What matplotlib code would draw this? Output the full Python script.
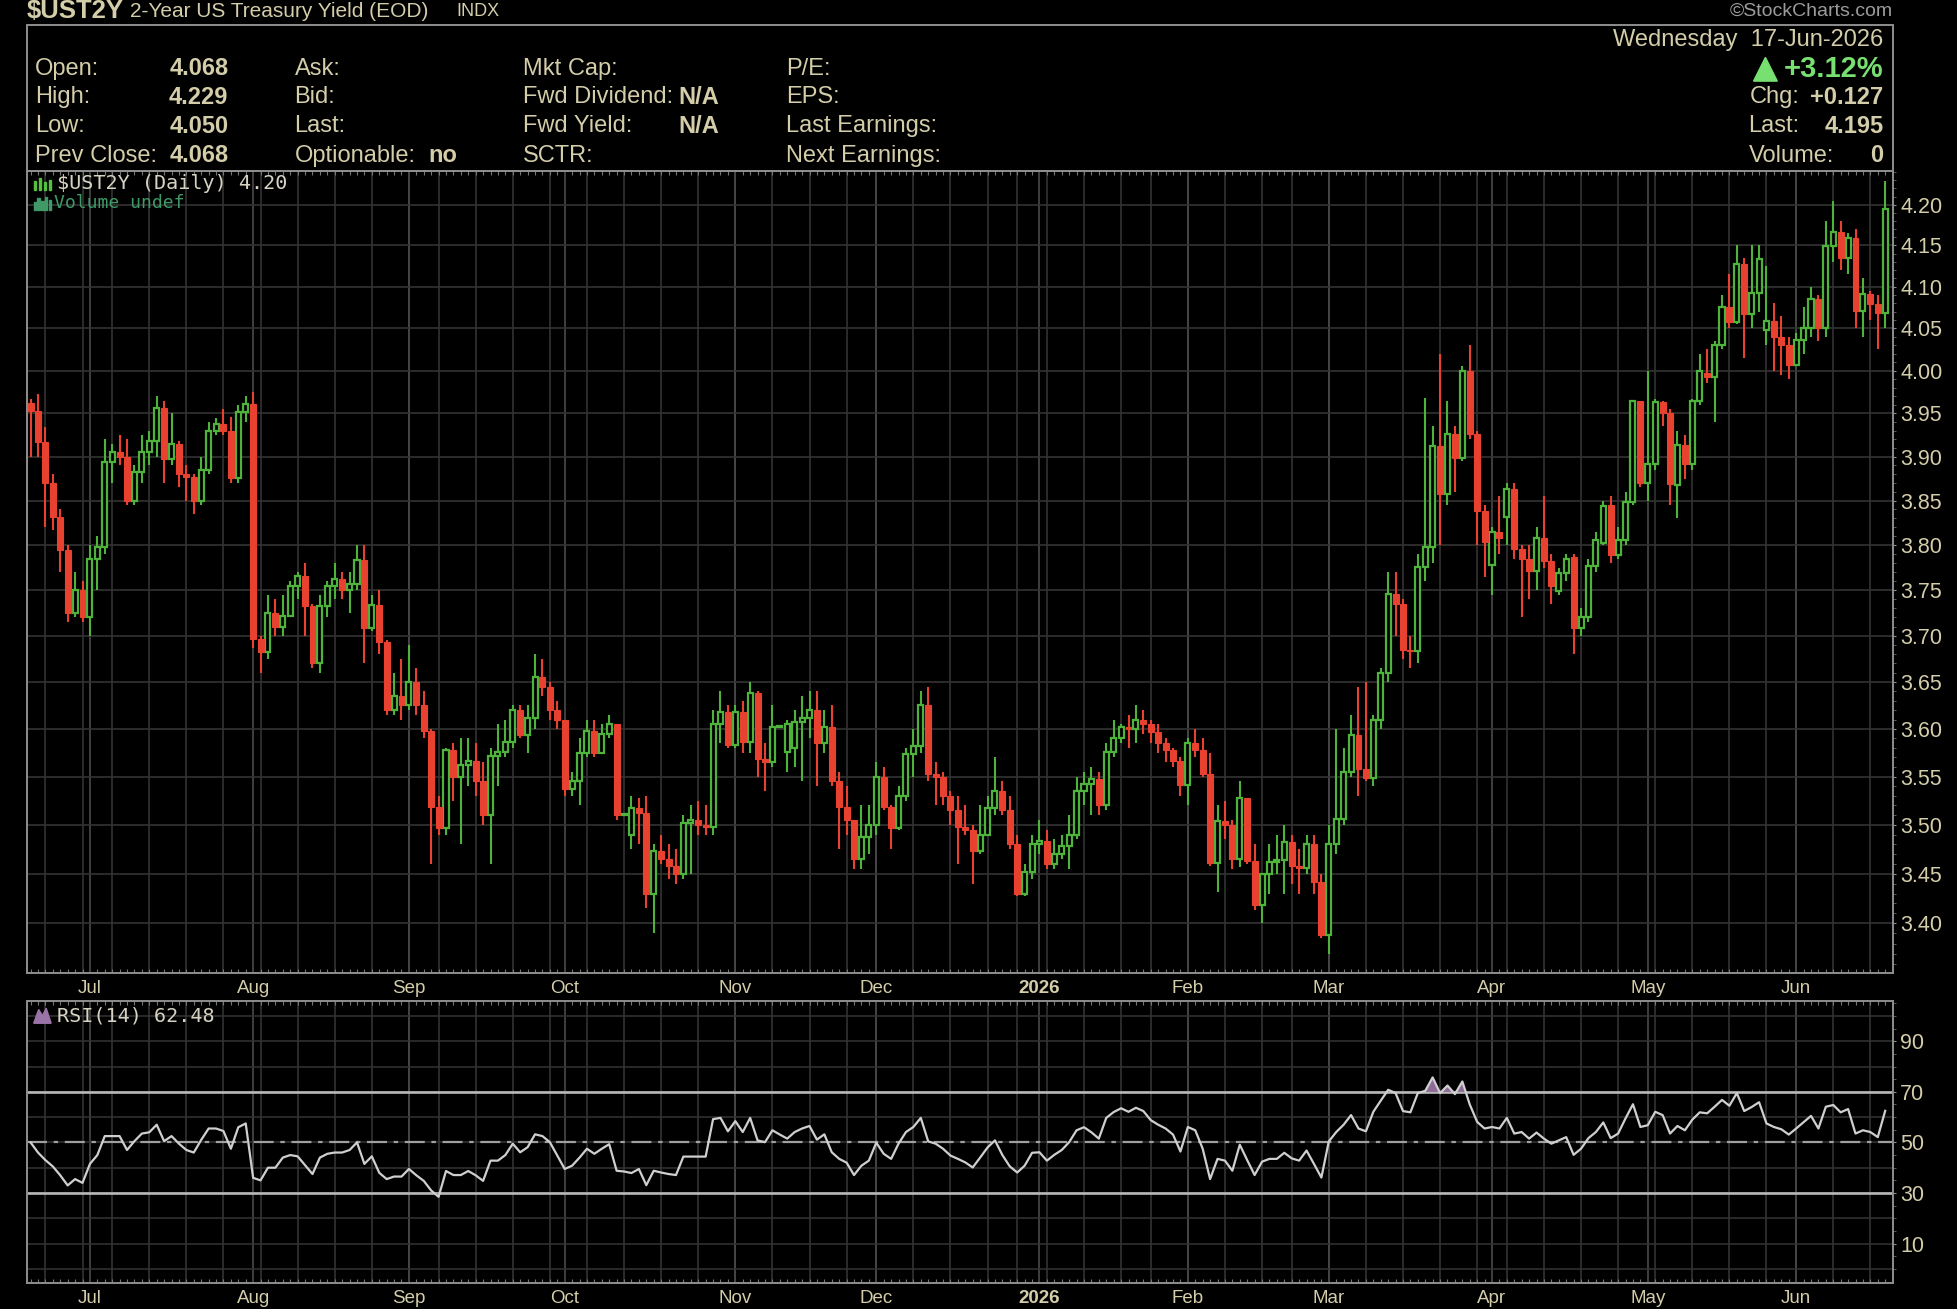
import numpy as np
import pandas as pd
import matplotlib
matplotlib.use("Agg")
import matplotlib.pyplot as plt
from matplotlib import font_manager as fm
from matplotlib.patches import Rectangle, Polygon
from matplotlib.ticker import FixedLocator, FixedFormatter, NullFormatter

# trading calendar, one candle per session
holidays = ["2025-06-19", "2025-07-04", "2025-09-01", "2025-11-27", "2025-12-25",
            "2026-01-01", "2026-01-19", "2026-02-16", "2026-04-03", "2026-05-25"]
dates = pd.bdate_range("2025-06-18", "2026-06-17")
dates = dates[~dates.isin(pd.to_datetime(holidays))]

# daily OHLC of $UST2Y
opens = [
    3.962, 3.953, 3.917, 3.870, 3.832, 3.795, 3.725, 3.750, 3.720, 3.785,
    3.798, 3.894, 3.905, 3.900, 3.850, 3.883, 3.906, 3.918, 3.956, 3.897,
    3.915, 3.880, 3.877, 3.850, 3.885, 3.930, 3.938, 3.930, 3.876, 3.952,
    3.961, 3.697, 3.682, 3.725, 3.710, 3.722, 3.755, 3.766, 3.733, 3.670,
    3.733, 3.755, 3.762, 3.750, 3.757, 3.783, 3.708, 3.734, 3.693, 3.620,
    3.635, 3.625, 3.650, 3.625, 3.598, 3.518, 3.497, 3.578, 3.550, 3.562,
    3.566, 3.545, 3.510, 3.572, 3.576, 3.586, 3.620, 3.594, 3.612, 3.655,
    3.645, 3.620, 3.610, 3.537, 3.545, 3.575, 3.598, 3.575, 3.595, 3.605,
    3.510, 3.490, 3.517, 3.512, 3.430, 3.473, 3.465, 3.458, 3.450, 3.502,
    3.505, 3.500, 3.498, 3.605, 3.618, 3.583, 3.618, 3.586, 3.638, 3.568,
    3.565, 3.602, 3.576, 3.580, 3.607, 3.612, 3.620, 3.585, 3.602, 3.545,
    3.518, 3.505, 3.465, 3.487, 3.500, 3.550, 3.518, 3.497, 3.530, 3.574,
    3.582, 3.625, 3.553, 3.550, 3.530, 3.515, 3.498, 3.495, 3.473, 3.490,
    3.517, 3.535, 3.515, 3.480, 3.430, 3.452, 3.480, 3.483, 3.460, 3.470,
    3.478, 3.490, 3.535, 3.542, 3.547, 3.520, 3.576, 3.590, 3.602, 3.600,
    3.610, 3.605, 3.597, 3.585, 3.578, 3.566, 3.541, 3.585, 3.578, 3.553,
    3.461, 3.504, 3.500, 3.465, 3.528, 3.463, 3.418, 3.450, 3.462, 3.464,
    3.482, 3.458, 3.456, 3.480, 3.442, 3.388, 3.480, 3.506, 3.555, 3.594,
    3.558, 3.549, 3.610, 3.660, 3.746, 3.735, 3.685, 3.683, 3.776, 3.798,
    3.912, 3.857, 3.926, 3.898, 3.999, 3.926, 3.838, 3.778, 3.815, 3.832,
    3.863, 3.796, 3.785, 3.771, 3.808, 3.782, 3.749, 3.769, 3.787, 3.708,
    3.721, 3.777, 3.802, 3.845, 3.789, 3.806, 3.849, 3.965, 3.870, 3.892,
    3.963, 3.950, 3.868, 3.914, 3.892, 3.965, 3.997, 3.992, 4.030, 4.075,
    4.058, 4.127, 4.067, 4.092, 4.048, 4.059, 4.040, 4.030, 4.007, 4.036,
    4.050, 4.085, 4.050, 4.149, 4.166, 4.135, 4.159, 4.071, 4.091, 4.079,
    4.068]
highs = [
    3.967, 3.973, 3.934, 3.880, 3.840, 3.800, 3.770, 3.760, 3.800, 3.810,
    3.920, 3.915, 3.925, 3.920, 3.890, 3.925, 3.930, 3.970, 3.965, 3.950,
    3.918, 3.890, 3.880, 3.900, 3.940, 3.945, 3.955, 3.946, 3.960, 3.970,
    3.975, 3.700, 3.745, 3.740, 3.745, 3.760, 3.770, 3.780, 3.735, 3.745,
    3.760, 3.780, 3.770, 3.770, 3.800, 3.800, 3.745, 3.750, 3.695, 3.660,
    3.675, 3.690, 3.665, 3.640, 3.600, 3.530, 3.580, 3.585, 3.590, 3.590,
    3.585, 3.565, 3.580, 3.605, 3.610, 3.625, 3.625, 3.625, 3.680, 3.675,
    3.650, 3.630, 3.610, 3.555, 3.590, 3.610, 3.610, 3.605, 3.615, 3.605,
    3.510, 3.530, 3.528, 3.530, 3.480, 3.490, 3.480, 3.475, 3.510, 3.520,
    3.525, 3.520, 3.620, 3.640, 3.625, 3.625, 3.630, 3.650, 3.640, 3.585,
    3.625, 3.602, 3.610, 3.620, 3.635, 3.640, 3.640, 3.620, 3.625, 3.555,
    3.540, 3.505, 3.520, 3.520, 3.565, 3.560, 3.520, 3.540, 3.580, 3.600,
    3.640, 3.645, 3.565, 3.555, 3.535, 3.530, 3.520, 3.500, 3.520, 3.530,
    3.570, 3.545, 3.530, 3.490, 3.460, 3.490, 3.505, 3.495, 3.485, 3.490,
    3.510, 3.550, 3.555, 3.560, 3.555, 3.585, 3.610, 3.605, 3.615, 3.625,
    3.620, 3.610, 3.605, 3.590, 3.580, 3.570, 3.590, 3.600, 3.590, 3.575,
    3.520, 3.525, 3.505, 3.545, 3.528, 3.480, 3.450, 3.480, 3.490, 3.500,
    3.490, 3.475, 3.490, 3.490, 3.450, 3.500, 3.600, 3.580, 3.615, 3.645,
    3.650, 3.615, 3.665, 3.770, 3.770, 3.740, 3.700, 3.790, 3.968, 3.935,
    4.020, 3.965, 3.935, 4.005, 4.030, 3.930, 3.845, 3.820, 3.855, 3.870,
    3.870, 3.800, 3.800, 3.820, 3.855, 3.790, 3.775, 3.790, 3.790, 3.730,
    3.785, 3.815, 3.850, 3.855, 3.820, 3.860, 3.965, 3.965, 4.000, 3.967,
    3.965, 3.955, 3.930, 3.925, 3.967, 4.020, 4.025, 4.035, 4.090, 4.115,
    4.150, 4.135, 4.150, 4.150, 4.125, 4.080, 4.065, 4.040, 4.045, 4.075,
    4.100, 4.090, 4.180, 4.205, 4.180, 4.165, 4.170, 4.110, 4.095, 4.090,
    4.229]
lows = [
    3.900, 3.900, 3.820, 3.817, 3.770, 3.715, 3.720, 3.715, 3.700, 3.750,
    3.790, 3.870, 3.890, 3.845, 3.845, 3.870, 3.890, 3.900, 3.870, 3.890,
    3.865, 3.850, 3.835, 3.845, 3.880, 3.925, 3.925, 3.870, 3.870, 3.940,
    3.687, 3.660, 3.675, 3.700, 3.700, 3.720, 3.740, 3.700, 3.665, 3.660,
    3.720, 3.740, 3.740, 3.725, 3.750, 3.670, 3.705, 3.680, 3.615, 3.615,
    3.610, 3.620, 3.615, 3.590, 3.460, 3.490, 3.490, 3.525, 3.480, 3.540,
    3.530, 3.500, 3.460, 3.540, 3.570, 3.580, 3.590, 3.575, 3.600, 3.635,
    3.610, 3.600, 3.530, 3.530, 3.520, 3.570, 3.570, 3.575, 3.590, 3.505,
    3.510, 3.475, 3.480, 3.415, 3.390, 3.460, 3.445, 3.440, 3.445, 3.450,
    3.490, 3.490, 3.490, 3.585, 3.580, 3.580, 3.575, 3.575, 3.550, 3.535,
    3.560, 3.602, 3.555, 3.560, 3.545, 3.590, 3.540, 3.575, 3.540, 3.475,
    3.490, 3.455, 3.455, 3.470, 3.490, 3.515, 3.475, 3.495, 3.525, 3.550,
    3.575, 3.545, 3.520, 3.520, 3.500, 3.460, 3.490, 3.440, 3.470, 3.490,
    3.510, 3.510, 3.475, 3.428, 3.428, 3.445, 3.470, 3.455, 3.455, 3.465,
    3.455, 3.485, 3.520, 3.510, 3.510, 3.515, 3.570, 3.585, 3.580, 3.585,
    3.595, 3.585, 3.575, 3.565, 3.560, 3.530, 3.520, 3.570, 3.550, 3.458,
    3.432, 3.485, 3.455, 3.457, 3.460, 3.413, 3.400, 3.430, 3.450, 3.430,
    3.440, 3.430, 3.450, 3.430, 3.385, 3.370, 3.470, 3.500, 3.550, 3.530,
    3.545, 3.540, 3.600, 3.650, 3.700, 3.675, 3.665, 3.670, 3.760, 3.780,
    3.800, 3.845, 3.860, 3.895, 3.920, 3.800, 3.765, 3.745, 3.790, 3.800,
    3.785, 3.720, 3.740, 3.750, 3.775, 3.735, 3.745, 3.760, 3.680, 3.700,
    3.715, 3.770, 3.800, 3.780, 3.785, 3.800, 3.845, 3.865, 3.850, 3.885,
    3.935, 3.845, 3.830, 3.875, 3.885, 3.960, 3.985, 3.940, 4.025, 4.050,
    4.055, 4.015, 4.050, 4.070, 4.030, 4.000, 3.995, 3.990, 4.005, 4.020,
    4.040, 4.035, 4.040, 4.130, 4.120, 4.115, 4.050, 4.040, 4.060, 4.025,
    4.050]
closes = [
    3.953, 3.917, 3.870, 3.832, 3.795, 3.725, 3.750, 3.720, 3.785, 3.798,
    3.894, 3.905, 3.900, 3.850, 3.883, 3.906, 3.918, 3.956, 3.897, 3.915,
    3.880, 3.877, 3.850, 3.885, 3.930, 3.938, 3.930, 3.876, 3.952, 3.961,
    3.697, 3.682, 3.725, 3.710, 3.722, 3.755, 3.766, 3.733, 3.670, 3.733,
    3.755, 3.762, 3.750, 3.757, 3.783, 3.708, 3.734, 3.693, 3.620, 3.635,
    3.625, 3.650, 3.625, 3.598, 3.518, 3.497, 3.578, 3.550, 3.562, 3.566,
    3.545, 3.510, 3.572, 3.576, 3.586, 3.620, 3.594, 3.612, 3.655, 3.645,
    3.620, 3.610, 3.537, 3.545, 3.575, 3.598, 3.575, 3.595, 3.605, 3.510,
    3.510, 3.517, 3.512, 3.430, 3.473, 3.465, 3.458, 3.450, 3.502, 3.505,
    3.500, 3.498, 3.605, 3.618, 3.583, 3.618, 3.586, 3.638, 3.568, 3.565,
    3.602, 3.602, 3.605, 3.607, 3.612, 3.620, 3.585, 3.602, 3.545, 3.518,
    3.505, 3.465, 3.487, 3.500, 3.550, 3.518, 3.497, 3.530, 3.574, 3.582,
    3.625, 3.553, 3.550, 3.530, 3.515, 3.498, 3.495, 3.473, 3.490, 3.517,
    3.535, 3.515, 3.480, 3.430, 3.452, 3.480, 3.483, 3.460, 3.470, 3.478,
    3.490, 3.535, 3.542, 3.547, 3.520, 3.576, 3.590, 3.602, 3.600, 3.610,
    3.605, 3.597, 3.585, 3.578, 3.566, 3.541, 3.585, 3.578, 3.553, 3.461,
    3.504, 3.500, 3.465, 3.528, 3.463, 3.418, 3.450, 3.462, 3.464, 3.482,
    3.458, 3.456, 3.480, 3.442, 3.388, 3.480, 3.506, 3.555, 3.594, 3.558,
    3.549, 3.610, 3.660, 3.746, 3.735, 3.685, 3.683, 3.776, 3.798, 3.912,
    3.857, 3.926, 3.898, 3.999, 3.926, 3.838, 3.804, 3.815, 3.808, 3.863,
    3.796, 3.785, 3.771, 3.808, 3.782, 3.755, 3.769, 3.785, 3.708, 3.721,
    3.777, 3.806, 3.844, 3.789, 3.806, 3.849, 3.965, 3.870, 3.892, 3.963,
    3.950, 3.869, 3.914, 3.892, 3.965, 3.999, 3.992, 4.030, 4.075, 4.058,
    4.127, 4.067, 4.092, 4.133, 4.059, 4.040, 4.030, 4.007, 4.036, 4.050,
    4.085, 4.050, 4.149, 4.166, 4.135, 4.159, 4.071, 4.091, 4.079, 4.068,
    4.195]
# RSI(14)
rsi = [
    50, 46, 43, 40.5, 37, 33, 35.5, 34, 41.5, 45,
    52.5, 52.5, 52.5, 47, 50.5, 53.5, 54, 57, 50.5, 52.5,
    49.5, 47, 46, 51, 55.5, 55.5, 54.5, 47.5, 56, 57.5,
    36, 35, 40, 40, 44, 45, 44.5, 41, 37.5, 44,
    45.5, 46, 46, 47, 50, 41.5, 44.5, 38, 35.5, 36.5,
    36.5, 39.5, 37, 34.8, 31, 28.5, 38.7, 37.1, 37.1, 38.7,
    37, 34.8, 42.8, 42.8, 45, 49.5, 46.1, 48.1, 53.2, 52.5,
    50.1, 44.8, 39.5, 40.8, 44, 47.5, 45.5, 47.5, 49.3, 38.8,
    38.5, 37.9, 39.5, 33.1, 38.8, 38.1, 37.5, 37.1, 44.4, 44.4,
    44.4, 44.4, 59.2, 59.7, 54.4, 58.4, 54.1, 59.7, 50.8, 50.1,
    54.8, 53.1, 51.5, 54.1, 55.5, 56.5, 51.1, 53.2, 46.1, 43.5,
    42, 37.1, 40.8, 42.8, 49.9, 45.5, 43.5, 49.5, 54.1, 56.1,
    59.7, 50.4, 49.5, 47.5, 44.8, 43.5, 42.1, 40.1, 44, 48,
    50.8, 45, 40.5, 38.1, 40.8, 45.9, 46.1, 42.8, 45.1, 47,
    50.1, 54.8, 56, 54, 51.5, 59.7, 62, 63.5, 62.1, 63.7,
    62.4, 58.8, 57, 55.5, 53.1, 46.4, 56.1, 54.8, 47.5, 35.5,
    43.5, 42.8, 38.8, 49.1, 43, 37.1, 42.4, 43.5, 43.5, 45.9,
    43.7, 42.8, 46.8, 41.5, 36.1, 50.4, 54.1, 57, 60.8, 55.5,
    54.4, 62.1, 66.5, 70.8, 69.5, 62.4, 61.9, 69.5, 70.4, 75.7,
    69.5, 72.5, 69.1, 74.1, 65, 58.1, 55.5, 56.1, 55.5, 59.7,
    53.5, 54.1, 51.5, 53.9, 51.5, 49.5, 50.8, 52.1, 45.1, 47.5,
    51.7, 54.1, 57.9, 51.7, 53.5, 59.5, 65.1, 56.1, 56.8, 62.1,
    60.8, 53.5, 56.5, 54.8, 59, 61.9, 61.5, 64.1, 66.8, 64.5,
    69.5, 62.4, 64, 65.9, 57.5, 56.1, 55.2, 53.1, 55.5, 58,
    60.5, 55.5, 64.1, 64.8, 61.9, 63.2, 53.5, 54.8, 54.1, 52.1,
    62.48]

price_ticks = [3.40, 3.45, 3.50, 3.55, 3.60, 3.65, 3.70, 3.75, 3.80,
               3.85, 3.90, 3.95, 4.00, 4.05, 4.10, 4.15, 4.20]
rsi_ticks = [10, 30, 50, 70, 90]

names = {f.name for f in fm.fontManager.ttflist}
narrow = "Liberation Sans Narrow" if "Liberation Sans Narrow" in names else "Liberation Sans"
plt.rcParams["font.family"] = [narrow, "DejaVu Sans"]

TAN = "#d3cda9"
GRID = "#333333"
MGRID = "#4a4a4a"
FRAME = "#8e8e8e"
GREEN = "#4db33a"
RED = "#e8412f"
MAUVE = "#8d6c97"

fig = plt.figure(figsize=(19.57, 13.09), dpi=100, facecolor="black")


def fx(x):
    return x / 1568.0


def fy(y):
    return 1.0 - y / 1049.0


ax = fig.add_axes([fx(22), fy(780), fx(1517) - fx(22), fy(137) - fy(780)], facecolor="black")
ax2 = fig.add_axes([fx(22), fy(1028), fx(1517) - fx(22), fy(802) - fy(1028)], facecolor="black")

x = np.arange(len(closes))
o = np.array(opens)
h = np.array(highs)
l = np.array(lows)
c = np.array(closes)
r = np.array(rsi)

# week and month grid positions
week_idx = [i for i in range(1, len(dates)) if dates[i].weekday() < dates[i - 1].weekday()]
month_idx = [i for i in range(1, len(dates)) if dates[i].month != dates[i - 1].month]
month_lab = ["2026" if dates[i].month == 1 else dates[i].strftime("%b") for i in month_idx]

for a in (ax, ax2):
    a.set_xlim(-0.42, 251.1)
    for i in week_idx:
        a.axvline(i, color=GRID, lw=1.2, zorder=0)
    for i in month_idx:
        a.axvline(i, color=MGRID, lw=1.2, zorder=0)
    for s in a.spines.values():
        s.set_color(FRAME)
        s.set_linewidth(1.4)
    a.set_xticks(month_idx)
    a.set_xticklabels(month_lab)
    a.xaxis.set_minor_locator(FixedLocator(list(x)))
    a.tick_params(axis="x", which="major", length=0, pad=5, labelsize=13.5, labelcolor=TAN)
    a.tick_params(axis="x", which="minor", length=3, width=0.8, color="#777777",
                  direction="in", top=True, bottom=True)
    for t in a.get_xticklabels():
        if t.get_text() == "2026":
            t.set_fontweight("bold")

# price panel (log scale like the source)
ax.set_yscale("log")
ax.set_ylim(3.3505, 4.2418)
for t in price_ticks:
    ax.axhline(t, color=GRID, lw=1.2, zorder=0)
ax.yaxis.set_major_locator(FixedLocator(price_ticks))
ax.yaxis.set_major_formatter(FixedFormatter([f"{t:.2f}" for t in price_ticks]))
ax.yaxis.set_minor_locator(FixedLocator(list(np.arange(3.36, 4.245, 0.01))))
ax.yaxis.set_minor_formatter(NullFormatter())
ax.yaxis.tick_right()
ax.tick_params(axis="y", which="major", length=2, color=FRAME, labelcolor=TAN, labelsize=15.5, pad=3)
ax.tick_params(axis="y", which="minor", length=2, color="#6a6a6a")

up = c >= o
lo_b = np.minimum(o, c)
body = np.maximum(np.abs(c - o), 0.0012)
ax.vlines(x[up], l[up], h[up], color=GREEN, lw=1.5, zorder=2)
ax.vlines(x[~up], l[~up], h[~up], color=RED, lw=1.5, zorder=2)
ax.bar(x[up], body[up], bottom=lo_b[up], width=0.68, facecolor="black",
       edgecolor=GREEN, linewidth=1.6, zorder=3)
ax.bar(x[~up], body[~up], bottom=lo_b[~up], width=0.8, facecolor=RED,
       edgecolor=RED, linewidth=0.8, zorder=3)

# RSI panel
ax2.set_ylim(-5.5, 106)
for t in range(0, 101, 10):
    ax2.axhline(t, color=GRID, lw=1.1, zorder=0)
ax2.axhline(70, color="#b9b9b9", lw=1.9, zorder=1)
ax2.axhline(30, color="#b9b9b9", lw=1.9, zorder=1)
ax2.axhline(50, color="#a0a0a0", lw=1.6, ls=(0, (9, 3, 2, 3)), zorder=1)
ax2.fill_between(x, r, 70, where=r > 70, interpolate=True, color=MAUVE, lw=0, zorder=2)
ax2.fill_between(x, r, 30, where=r < 30, interpolate=True, color=MAUVE, lw=0, zorder=2)
ax2.plot(x, r, color="#cfcfcf", lw=1.6, zorder=3)
ax2.set_yticks(rsi_ticks)
ax2.set_yticklabels([str(t) for t in rsi_ticks])
ax2.yaxis.set_minor_locator(FixedLocator(list(range(0, 106, 5))))
ax2.yaxis.tick_right()
ax2.tick_params(axis="y", which="major", length=2, color=FRAME, labelcolor=TAN, labelsize=15.5, pad=3)
ax2.tick_params(axis="y", which="minor", length=2, color="#6a6a6a")

# header and info box
fig.patches.append(Rectangle((fx(22), fy(137)), fx(1517) - fx(22), fy(20) - fy(137),
                             transform=fig.transFigure, fill=False, edgecolor=FRAME, lw=1.4))
fig.text(fx(21), fy(9), "$UST2Y", color=TAN, fontsize=18.5, fontweight="bold", va="center")
fig.text(fx(104), fy(9), "2-Year US Treasury Yield (EOD)", color=TAN, fontsize=15, va="center")
fig.text(fx(366), fy(9), "INDX", color=TAN, fontsize=13, va="center")
fig.text(fx(1517), fy(9), "\u00a9StockCharts.com", color="#9c9c9c", fontsize=14, va="center", ha="right")

rows = [55, 78, 101, 125]
col1 = ["Open:", "High:", "Low:", "Prev Close:"]
val1 = ["4.068", "4.229", "4.050", "4.068"]
col2 = ["Ask:", "Bid:", "Last:", "Optionable:"]
col3 = ["Mkt Cap:", "Fwd Dividend:", "Fwd Yield:", "SCTR:"]
col4 = ["P/E:", "EPS:", "Last Earnings:", "Next Earnings:"]
fs = 17
for k, yy in enumerate(rows):
    fig.text(fx(28), fy(yy), col1[k], color=TAN, fontsize=fs, va="center")
    fig.text(fx(183), fy(yy), val1[k], color=TAN, fontsize=fs, fontweight="bold", va="center", ha="right")
    fig.text(fx(236), fy(yy), col2[k], color=TAN, fontsize=fs, va="center")
    fig.text(fx(419), fy(yy), col3[k], color=TAN, fontsize=fs, va="center")
    fig.text(fx(630), fy(yy), col4[k], color=TAN, fontsize=fs, va="center")
fig.text(fx(343), fy(125), "no", color=TAN, fontsize=fs, fontweight="bold", va="center")
fig.text(fx(576), fy(78), "N/A", color=TAN, fontsize=fs, fontweight="bold", va="center", ha="right")
fig.text(fx(576), fy(101), "N/A", color=TAN, fontsize=fs, fontweight="bold", va="center", ha="right")

fig.text(fx(1509), fy(32), "Wednesday  17-Jun-2026", color=TAN, fontsize=fs, va="center", ha="right")
fig.patches.append(Polygon([(fx(1405), fy(65)), (fx(1424), fy(65)), (fx(1414.5), fy(46))],
                           closed=True, transform=fig.transFigure, color="#78e070"))
fig.text(fx(1509), fy(55), "+3.12%", color="#78e070", fontsize=21, fontweight="bold", va="center", ha="right")
fig.text(fx(1402), fy(78), "Chg:", color=TAN, fontsize=fs, va="center")
fig.text(fx(1509), fy(78), "+0.127", color=TAN, fontsize=fs, fontweight="bold", va="center", ha="right")
fig.text(fx(1401), fy(101), "Last:", color=TAN, fontsize=fs, va="center")
fig.text(fx(1509), fy(101), "4.195", color=TAN, fontsize=fs, fontweight="bold", va="center", ha="right")
fig.text(fx(1401), fy(125), "Volume:", color=TAN, fontsize=fs, va="center")
fig.text(fx(1509), fy(125), "0", color=TAN, fontsize=fs, fontweight="bold", va="center", ha="right")

# panel legends
for dx, hh in [(28, 7), (32, 9), (36, 6), (40, 8)]:
    fig.patches.append(Rectangle((fx(dx - 1), fy(152)), fx(2), fy(152 - hh) - fy(152),
                                 transform=fig.transFigure, color="#55c040"))
fig.text(fx(46), fy(147), "$UST2Y (Daily) 4.20", color="#d6d3c2", fontsize=14.5,
         family="DejaVu Sans Mono", va="center")
for dx, hh in [(28, 6), (31, 9), (34, 7), (37, 10), (40, 8)]:
    fig.patches.append(Rectangle((fx(dx - 1), fy(168)), fx(2), fy(168 - hh) - fy(168),
                                 transform=fig.transFigure, color="#3f9a68"))
fig.text(fx(43), fy(163), "Volume undef", color="#3f9a68", fontsize=13,
         family="DejaVu Sans Mono", va="center")
fig.patches.append(Polygon([(fx(27), fy(820)), (fx(31), fy(809)), (fx(34), fy(814)),
                            (fx(37), fy(808)), (fx(41), fy(820))],
                           closed=True, transform=fig.transFigure, color="#9a74a6"))
fig.text(fx(46), fy(814), "RSI(14) 62.48", color="#d6d3c2", fontsize=14.5,
         family="DejaVu Sans Mono", va="center")

fig.savefig("out.png", dpi=100, facecolor="black")
